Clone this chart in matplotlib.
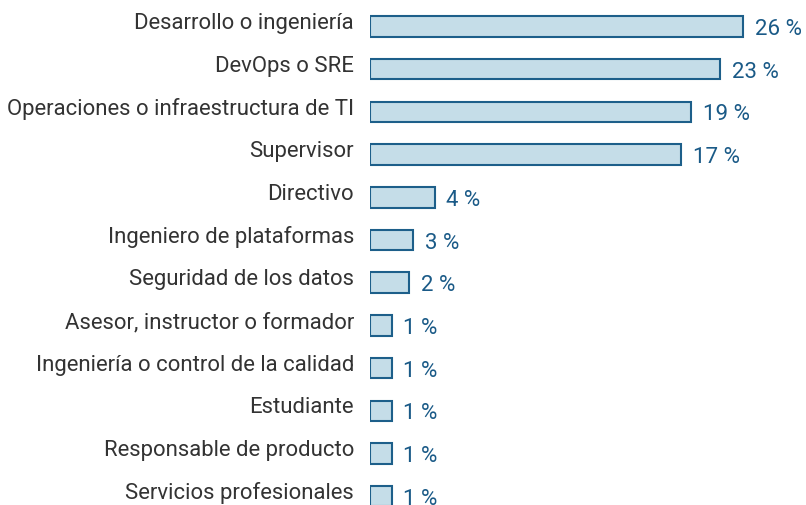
import numpy as np
import matplotlib.pyplot as plt
import matplotlib.transforms as mtransforms

plt.rcParams['font.family'] = ['Roboto', 'DejaVu Sans']

# roles, top to bottom
roles = ['Desarrollo o ingeniería', 'DevOps o SRE', 'Operaciones o infraestructura de TI',
         'Supervisor', 'Directivo', 'Ingeniero de plataformas', 'Seguridad de los datos',
         'Asesor, instructor o formador', 'Ingeniería o control de la calidad',
         'Estudiante', 'Responsable de producto', 'Servicios profesionales']
# shown percentages
shares = [26, 23, 19, 17, 4, 3, 2, 1, 1, 1, 1, 1]
# bar lengths as drawn in the picture (not strictly proportional to labels)
bar_len = [26.0, 24.4, 22.4, 21.7, 4.5, 3.0, 2.7, 1.5, 1.5, 1.5, 1.5, 1.5]

fill = '#c5dde8'
edge = '#1d5f8a'
txt_blue = '#1a5a87'

W, H = 806, 506
fig = plt.figure(figsize=(W / 100, H / 100), dpi=100)
ax = fig.add_axes([370 / W, 0, 436 / W, 1])

pitch = 42.7
y = np.arange(len(roles))
ax.barh(y, bar_len, height=20.5 / pitch, color=fill, edgecolor=edge, linewidth=1.5)

ax.set_xlim(0, 436 / 14.35)
ax.set_ylim((H - 27.5) / pitch, -27.5 / pitch)
ax.axis('off')

# category labels, right aligned left of the bars
lab_tr = mtransforms.blended_transform_factory(ax.transAxes, ax.transData) + \
    mtransforms.ScaledTranslation(-16 / 100, 0, fig.dpi_scale_trans)
for i, r in enumerate(roles):
    ax.text(0, i - 0.09, r, transform=lab_tr, ha='right', va='center',
            fontsize=15.9, color='#333333')

# value labels
for i, (b, s) in enumerate(zip(bar_len, shares)):
    ax.annotate(f'{s} %', (b, i), xytext=(8.5, -1.5), textcoords='offset points',
                ha='left', va='center', fontsize=16, color=txt_blue, annotation_clip=False)

fig.savefig('out.png', dpi=100)
